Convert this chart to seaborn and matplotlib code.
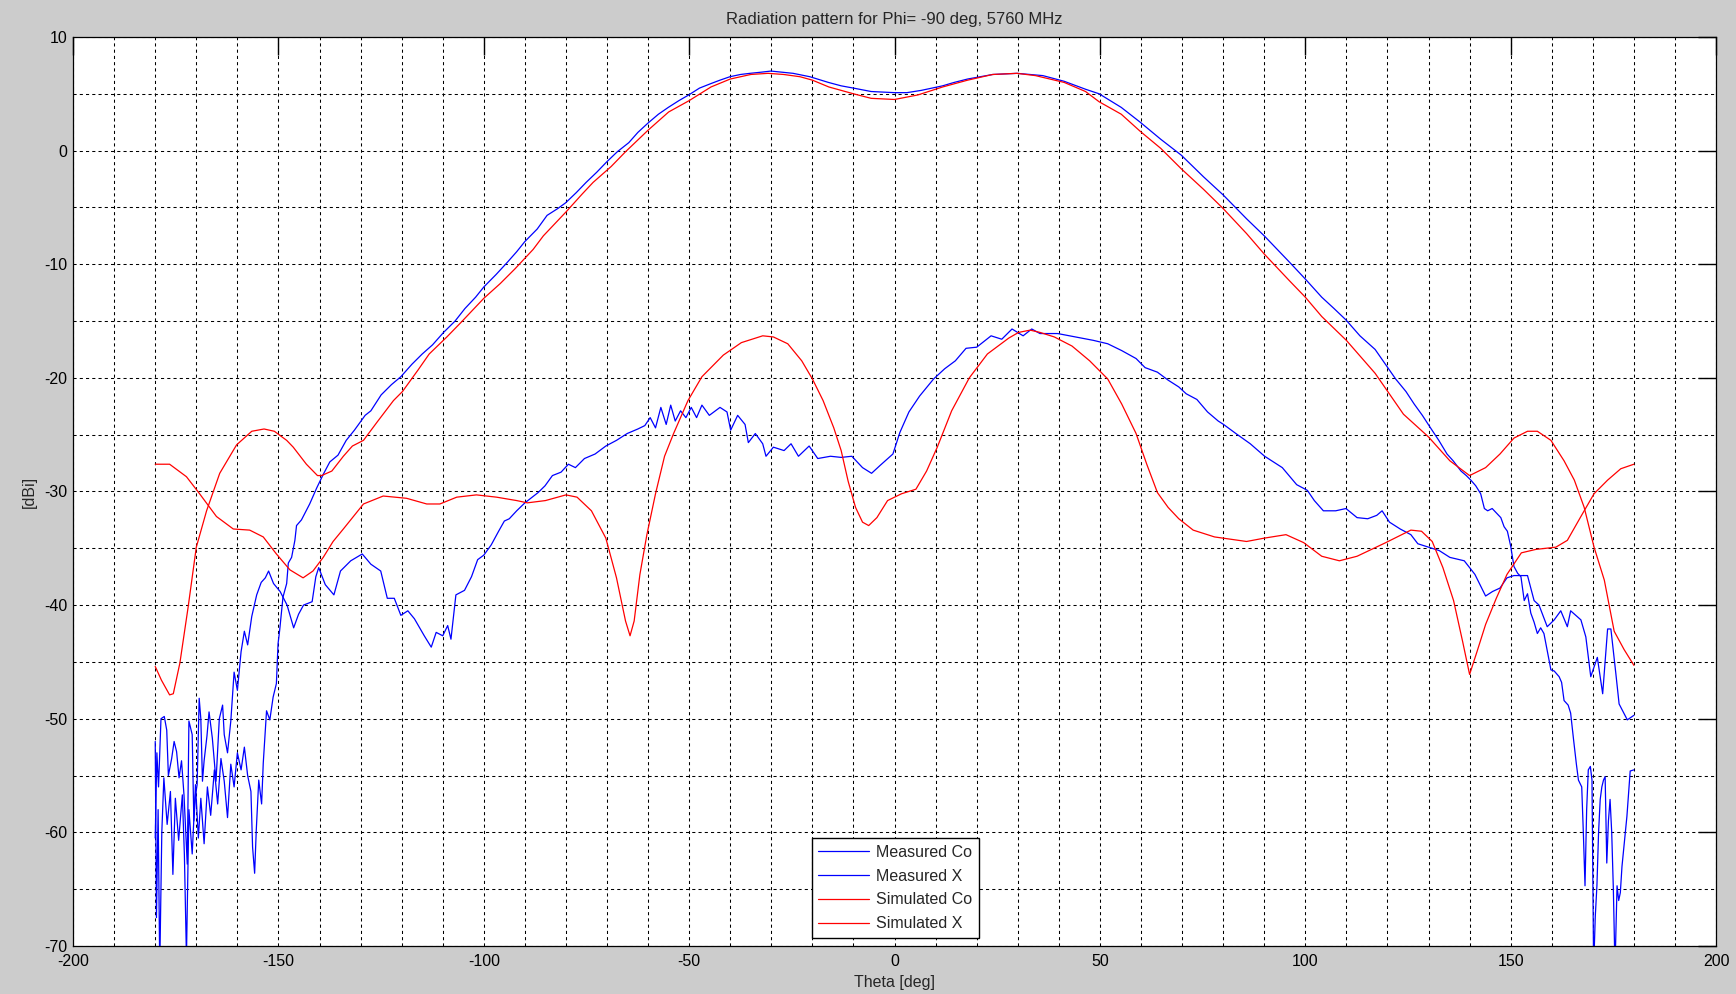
import pandas as pd
import matplotlib
matplotlib.use("Agg")
import matplotlib.pyplot as plt
from matplotlib.ticker import MultipleLocator
import seaborn as sns

# -----------------------------
# Data (theta in deg, gain in dBi)
# -----------------------------
meas_co_theta = [
    -180.0, -179.7, -179.3, -178.9, -178.4, -177.9, -177.1, -176.3, -175.7, -175.1,
    -174.3, -173.4, -172.9, -172.4, -171.8, -171.0, -170.2, -169.5, -168.9, -168.1,
    -167.3, -166.5, -165.6, -164.8, -164.0, -163.2, -162.4, -161.6, -160.8, -160.0,
    -159.1, -158.3, -157.5, -156.7, -156.3, -155.8, -155.4, -154.8, -154.1, -153.7,
    -152.9, -152.1, -151.3, -150.5, -150.1, -149.7, -148.9, -148.0, -147.6, -146.8,
    -146.0, -145.6, -144.4, -142.4, -140.7, -139.1, -137.5, -135.5, -133.5, -131.5,
    -130.3, -128.9, -127.5, -125.0, -122.5, -120.2, -117.5, -115.0, -112.5, -109.8,
    -107.0, -104.6, -102.0, -100.0, -97.0, -94.2, -92.0, -90.0, -87.0, -84.6,
    -82.0, -80.1, -77.5, -75.1, -72.5, -70.1, -67.5, -64.7, -62.5, -60.1,
    -57.5, -55.1, -52.5, -50.1, -47.5, -44.7, -42.5, -40.1, -37.5, -35.2,
    -32.5, -30.1, -27.5, -24.7, -20.6, -16.1, -13.0, -10.0, -5.7, 0.0,
    3.0, 6.5, 11.7, 14.5, 17.8, 23.9, 29.8, 33.0, 36.1, 41.3,
    46.5, 49.8, 55.2, 59.8, 64.8, 69.8, 75.2, 80.0, 85.7, 90.0,
    96.1, 100.0, 104.0, 107.0, 109.9, 113.3, 117.0, 119.5, 122.0, 124.5,
    126.5, 128.5, 130.3, 132.5, 134.5, 136.0, 137.9, 139.2, 140.3, 141.5,
    142.7, 143.6, 144.4, 145.5, 146.8, 147.6, 148.4, 149.2, 150.0, 150.8,
    151.7, 152.5, 153.3, 154.1, 154.9, 155.7, 156.5, 157.3, 158.1, 158.9,
    159.8, 160.6, 161.8, 162.4, 163.0, 164.0, 164.6, 165.3, 166.0, 166.5,
    167.3, 167.7, 168.1, 168.5, 168.9, 169.4, 169.8, 170.2, 170.6, 171.0,
    171.4, 171.8, 172.2, 172.6, 173.0, 173.4, 173.8, 174.2, 174.6, 175.0,
    175.4, 175.9, 176.3, 176.7, 177.1, 177.5, 178.3, 179.1, 180.0,
]
meas_co_db = [
    -52.0, -67.5, -58.0, -72.0, -60.0, -55.2, -59.3, -56.4, -63.7, -57.0,
    -60.7, -56.7, -62.0, -71.0, -58.0, -61.9, -55.8, -60.5, -57.0, -61.0,
    -56.0, -58.5, -54.5, -57.5, -53.5, -55.5, -58.7, -54.0, -56.0, -53.0,
    -54.5, -52.5, -55.0, -56.4, -61.3, -63.6, -59.8, -55.4, -57.5, -53.9,
    -49.3, -50.1, -48.1, -46.9, -43.4, -42.2, -39.3, -38.1, -36.3, -35.8,
    -34.3, -33.0, -32.5, -31.1, -29.7, -28.5, -27.4, -26.8, -25.5, -24.6,
    -24.0, -23.3, -22.9, -21.5, -20.6, -19.9, -18.8, -17.9, -17.1, -16.0,
    -15.0, -13.9, -12.9, -12.0, -10.9, -9.8, -8.9, -8.0, -6.9, -5.7,
    -5.1, -4.6, -3.7, -2.8, -1.9, -1.0, -0.1, 0.7, 1.6, 2.4,
    3.2, 3.8, 4.4, 4.9, 5.5, 5.9, 6.2, 6.5, 6.7, 6.8,
    6.9, 7.0, 6.9, 6.8, 6.5, 6.0, 5.7, 5.5, 5.2, 5.1,
    5.1, 5.3, 5.7, 6.0, 6.3, 6.7, 6.8, 6.7, 6.6, 6.1,
    5.4, 5.0, 3.8, 2.5, 1.0, -0.4, -2.3, -3.9, -6.0, -7.5,
    -9.8, -11.3, -12.9, -13.9, -14.9, -16.3, -17.5, -18.8, -20.1, -21.2,
    -22.3, -23.3, -24.3, -25.5, -26.7, -27.3, -28.2, -28.6, -29.0, -29.5,
    -30.2, -31.5, -31.7, -31.5, -32.0, -32.3, -33.1, -33.5, -34.8, -36.6,
    -37.2, -37.5, -39.6, -39.0, -40.7, -41.5, -42.5, -42.0, -42.5, -44.0,
    -45.7, -45.8, -46.3, -46.8, -48.4, -48.8, -49.5, -51.8, -54.0, -55.4,
    -56.0, -60.1, -64.7, -58.0, -54.5, -54.2, -55.4, -72.0, -67.4, -64.7,
    -60.0, -57.1, -56.0, -55.4, -55.1, -62.7, -59.0, -57.1, -60.0, -65.0,
    -72.0, -64.7, -66.0, -65.3, -63.0, -61.5, -58.6, -54.6, -54.5,
]

meas_x_theta = [
    -180.0, -179.6, -179.2, -178.6, -177.8, -177.2, -176.8, -176.0, -175.4, -174.8,
    -174.2, -173.6, -173.0, -172.2, -171.8, -171.0, -170.6, -170.2, -169.8, -169.3,
    -168.9, -168.5, -168.1, -167.4, -166.9, -166.1, -165.2, -164.4, -163.6, -163.2,
    -162.4, -161.6, -160.8, -160.0, -159.1, -158.3, -157.5, -156.5, -155.3, -154.2,
    -153.2, -152.4, -151.2, -149.6, -147.9, -146.3, -145.1, -143.9, -141.8, -140.9,
    -140.2, -138.6, -136.5, -134.9, -132.4, -129.6, -127.5, -125.1, -123.5, -121.8,
    -120.2, -118.5, -116.9, -114.5, -112.8, -111.6, -110.0, -108.8, -108.0, -106.8,
    -104.7, -103.0, -101.5, -100.0, -98.2, -96.4, -95.0, -93.8, -92.0, -90.0,
    -86.8, -85.1, -83.3, -81.2, -79.4, -77.7, -75.5, -72.9, -70.3, -67.7,
    -65.1, -62.5, -60.8, -59.5, -58.2, -56.9, -55.6, -54.5, -53.4, -52.1,
    -50.8, -49.5, -48.2, -46.9, -45.1, -42.5, -40.8, -39.9, -38.2, -36.4,
    -35.6, -33.9, -32.1, -31.3, -29.5, -26.9, -25.2, -23.4, -20.8, -18.7,
    -15.6, -13.0, -10.4, -7.8, -5.6, -3.5, -0.4, 1.3, 3.5, 6.1,
    9.5, 12.2, 14.8, 17.4, 20.0, 23.5, 26.1, 28.6, 31.3, 33.4,
    35.4, 39.7, 44.1, 48.4, 51.9, 55.3, 58.8, 61.0, 64.0, 66.6,
    69.2, 71.0, 73.6, 76.2, 78.8, 80.1, 83.1, 86.6, 90.1, 94.4,
    97.9, 100.5, 102.2, 104.4, 107.4, 109.9, 112.6, 115.2, 117.4, 118.7,
    120.5, 123.1, 125.7, 127.4, 130.0, 132.6, 135.2, 138.7, 141.3, 143.9,
    145.6, 147.4, 149.1, 150.8, 154.1, 155.7, 156.9, 158.9, 160.6, 162.2,
    163.8, 164.6, 167.1, 168.3, 169.5, 171.1, 172.4, 173.6, 174.4, 175.6,
    176.4, 178.4, 180.0,
]
meas_x_db = [
    -60.5, -53.0, -56.0, -50.0, -49.8, -51.0, -55.0, -53.5, -52.0, -52.9,
    -55.2, -53.7, -56.7, -62.8, -50.2, -51.4, -59.0, -56.7, -55.8, -48.2,
    -50.0, -55.5, -53.7, -51.5, -49.4, -51.7, -55.5, -50.0, -48.8, -51.4,
    -53.0, -50.2, -45.9, -47.5, -44.1, -42.3, -43.5, -41.0, -39.1, -38.0,
    -37.6, -37.0, -38.1, -38.8, -40.0, -42.0, -40.8, -40.0, -39.7, -37.5,
    -36.7, -38.2, -39.1, -37.0, -36.1, -35.5, -36.4, -37.0, -39.4, -39.4,
    -40.9, -40.5, -41.2, -42.7, -43.7, -42.4, -42.7, -41.8, -43.0, -39.1,
    -38.7, -37.5, -36.0, -35.6, -34.7, -33.5, -32.6, -32.4, -31.7, -31.0,
    -30.1, -29.5, -28.6, -28.3, -27.6, -27.9, -27.1, -26.7, -26.0, -25.5,
    -24.9, -24.5, -24.2, -23.5, -24.4, -22.6, -24.1, -22.4, -23.8, -22.9,
    -23.5, -22.6, -23.5, -22.4, -23.3, -22.6, -23.0, -24.6, -23.3, -24.1,
    -25.7, -24.9, -25.8, -26.9, -26.1, -26.4, -25.8, -26.9, -26.0, -27.1,
    -26.9, -27.0, -26.9, -27.9, -28.4, -27.7, -26.7, -24.8, -23.0, -21.6,
    -20.1, -19.2, -18.5, -17.4, -17.3, -16.3, -16.6, -15.7, -16.3, -15.7,
    -16.1, -16.1, -16.4, -16.7, -17.0, -17.6, -18.3, -19.1, -19.5, -20.2,
    -20.8, -21.4, -21.9, -23.0, -23.8, -24.1, -24.9, -25.8, -26.9, -27.9,
    -29.4, -29.9, -30.8, -31.7, -31.7, -31.5, -32.3, -32.4, -32.1, -31.7,
    -32.7, -33.3, -33.8, -34.6, -34.9, -35.2, -35.8, -36.1, -37.3, -39.2,
    -38.8, -38.5, -37.6, -37.4, -37.4, -39.6, -40.0, -41.9, -41.3, -40.5,
    -41.9, -40.5, -41.3, -42.8, -46.3, -44.6, -47.8, -42.1, -42.1, -46.0,
    -48.7, -50.1, -49.7,
]

sim_co_theta = [
    -180.0, -178.5, -176.5, -175.6, -174.0, -172.0, -170.0, -167.5, -164.3, -160.2,
    -156.5, -153.5, -151.0, -148.0, -146.4, -143.2, -140.5, -139.5, -137.0, -134.2,
    -132.0, -129.3, -126.0, -122.0, -119.8, -116.0, -113.3, -109.0, -105.5, -100.0,
    -96.0, -92.4, -88.0, -85.5, -80.0, -76.0, -73.4, -69.0, -65.5, -60.0,
    -55.0, -50.0, -44.7, -40.0, -35.0, -30.8, -27.0, -23.0, -20.0, -16.0,
    -10.0, -5.7, 0.0, 5.7, 11.7, 17.8, 23.9, 29.8, 34.3, 41.3,
    46.5, 49.8, 55.2, 59.8, 64.8, 69.8, 75.2, 80.0, 85.7, 90.0,
    96.0, 100.0, 104.0, 110.0, 117.0, 123.9, 130.0, 135.2, 140.0, 143.9,
    147.4, 150.8, 154.1, 156.5, 159.8, 163.0, 165.5, 167.9, 170.3, 172.8,
    175.2, 177.6, 180.0,
]
sim_co_db = [
    -45.4, -46.6, -47.9, -47.8, -45.1, -40.2, -34.9, -31.7, -28.4, -25.9,
    -24.7, -24.5, -24.7, -25.5, -26.1, -27.6, -28.6, -28.6, -28.2, -26.9,
    -26.0, -25.5, -23.9, -22.0, -21.2, -19.3, -17.9, -16.4, -15.1, -13.0,
    -11.7, -10.4, -8.7, -7.5, -5.4, -3.8, -2.8, -1.4, -0.1, 1.8,
    3.4, 4.4, 5.6, 6.3, 6.7, 6.8, 6.7, 6.5, 6.2, 5.6,
    5.0, 4.6, 4.5, 4.9, 5.6, 6.2, 6.7, 6.8, 6.6, 6.0,
    5.2, 4.3, 3.2, 1.7, 0.2, -1.6, -3.4, -5.1, -7.3, -9.1,
    -11.4, -12.9, -14.6, -16.7, -19.6, -23.2, -25.2, -27.3, -28.6, -27.9,
    -26.7, -25.3, -24.7, -24.7, -25.5, -27.3, -29.0, -31.4, -34.9, -37.8,
    -42.3, -43.9, -45.3,
]

sim_x_theta = [
    -180.0, -176.5, -172.4, -169.2, -165.1, -161.0, -157.0, -153.7, -150.5, -147.2,
    -144.0, -141.6, -139.1, -136.7, -134.2, -129.3, -124.5, -118.8, -113.9, -110.7,
    -106.6, -101.8, -96.9, -92.0, -89.4, -85.0, -80.0, -77.3, -73.8, -70.3,
    -67.7, -65.5, -64.4, -63.4, -62.0, -60.3, -58.2, -56.0, -53.8, -50.3,
    -46.9, -41.7, -37.3, -32.1, -29.5, -26.0, -22.6, -20.0, -17.4, -14.8,
    -13.0, -11.3, -9.5, -7.8, -6.3, -4.3, -1.7, 1.7, 5.2, 7.8,
    10.4, 13.9, 18.2, 22.6, 27.8, 30.2, 33.0, 35.4, 38.9, 43.2,
    47.5, 51.9, 55.3, 58.8, 61.4, 64.0, 66.6, 69.2, 72.7, 77.9,
    85.7, 90.1, 95.3, 99.6, 104.0, 108.3, 112.6, 119.6, 125.7, 128.3,
    130.9, 133.5, 136.1, 138.3, 140.0, 141.8, 143.9, 146.5, 149.1, 152.6,
    156.1, 161.0, 163.8, 167.1, 170.3, 173.6, 176.8, 180.0,
]
sim_x_db = [
    -27.6, -27.6, -28.7, -30.2, -32.2, -33.3, -33.4, -34.0, -35.5, -36.9,
    -37.6, -37.0, -35.8, -34.4, -33.3, -31.1, -30.4, -30.6, -31.1, -31.1,
    -30.5, -30.3, -30.5, -30.8, -31.0, -30.8, -30.3, -30.5, -31.7, -34.1,
    -37.6, -41.4, -42.7, -41.4, -37.3, -33.8, -30.2, -26.9, -24.9, -22.0,
    -19.9, -18.0, -16.9, -16.3, -16.4, -17.0, -18.5, -20.1, -22.0, -24.4,
    -26.4, -29.1, -31.4, -32.7, -33.0, -32.3, -30.8, -30.2, -29.8, -28.2,
    -26.1, -22.9, -20.0, -17.9, -16.5, -16.0, -15.8, -16.0, -16.4, -17.2,
    -18.5, -20.1, -22.3, -24.9, -27.6, -30.1, -31.4, -32.4, -33.4, -34.0,
    -34.4, -34.1, -33.8, -34.5, -35.7, -36.1, -35.7, -34.5, -33.4, -33.5,
    -34.4, -36.7, -39.6, -43.2, -46.1, -44.1, -41.7, -39.4, -37.3, -35.4,
    -35.1, -34.9, -34.3, -32.2, -30.2, -29.0, -28.0, -27.6,
]

curve_names = ["Measured Co", "Measured X", "Simulated Co", "Simulated X"]
curve_colors = ["#0000ff", "#0000ff", "#ff0000", "#ff0000"]

frames = []
for name, th, db in zip(curve_names,
                        [meas_co_theta, meas_x_theta, sim_co_theta, sim_x_theta],
                        [meas_co_db, meas_x_db, sim_co_db, sim_x_db]):
    frames.append(pd.DataFrame({"theta": th, "dBi": db, "curve": name}))
df = pd.concat(frames, ignore_index=True)

# -----------------------------
# Plot
# -----------------------------
sns.set_style("white")
plt.rcParams["font.family"] = ["Liberation Sans", "DejaVu Sans"]
plt.rcParams["axes.unicode_minus"] = False

fig = plt.figure(figsize=(17.36, 9.94), dpi=100, facecolor="#cccccc")
ax = fig.add_axes([0.0421, 0.0483, 0.9464, 0.9145])
ax.set_facecolor("white")

sns.lineplot(data=df, x="theta", y="dBi", hue="curve", hue_order=curve_names,
             palette=dict(zip(curve_names, curve_colors)), estimator=None,
             sort=False, linewidth=0.9, ax=ax)

ax.set_xlim(-200, 200)
ax.set_ylim(-70, 10)
ax.xaxis.set_major_locator(MultipleLocator(50))
ax.yaxis.set_major_locator(MultipleLocator(10))
ax.xaxis.set_minor_locator(MultipleLocator(10))
ax.yaxis.set_minor_locator(MultipleLocator(5))

ax.grid(True, which="both", color="black", linestyle=(0, (3, 3)), linewidth=0.75)
ax.tick_params(which="major", direction="in", length=13, width=1, top=True, right=True,
               labelsize=11.5, colors="black")
ax.tick_params(axis="x", which="major", pad=6)
ax.tick_params(axis="y", which="major", pad=4)
ax.tick_params(which="minor", length=0)
for sp in ax.spines.values():
    sp.set_color("black")
    sp.set_linewidth(0.9)

ax.set_title("Radiation pattern for Phi= -90 deg, 5760 MHz", fontsize=12, pad=9)
ax.set_xlabel("Theta [deg]", fontsize=11.5, labelpad=4)
ax.set_ylabel("[dBi]", fontsize=11.5, labelpad=5)

handles, labels = ax.get_legend_handles_labels()
leg = ax.legend(handles, labels, loc="lower center", bbox_to_anchor=(0.5005, 0.009),
                fontsize=11.5, frameon=True, fancybox=False, framealpha=1,
                edgecolor="black", borderpad=0.4, labelspacing=0.56,
                handlelength=3.2, handletextpad=0.45, borderaxespad=0)
leg.get_frame().set_linewidth(1)

fig.savefig("out.png", dpi=100, facecolor=fig.get_facecolor())
plt.close(fig)
